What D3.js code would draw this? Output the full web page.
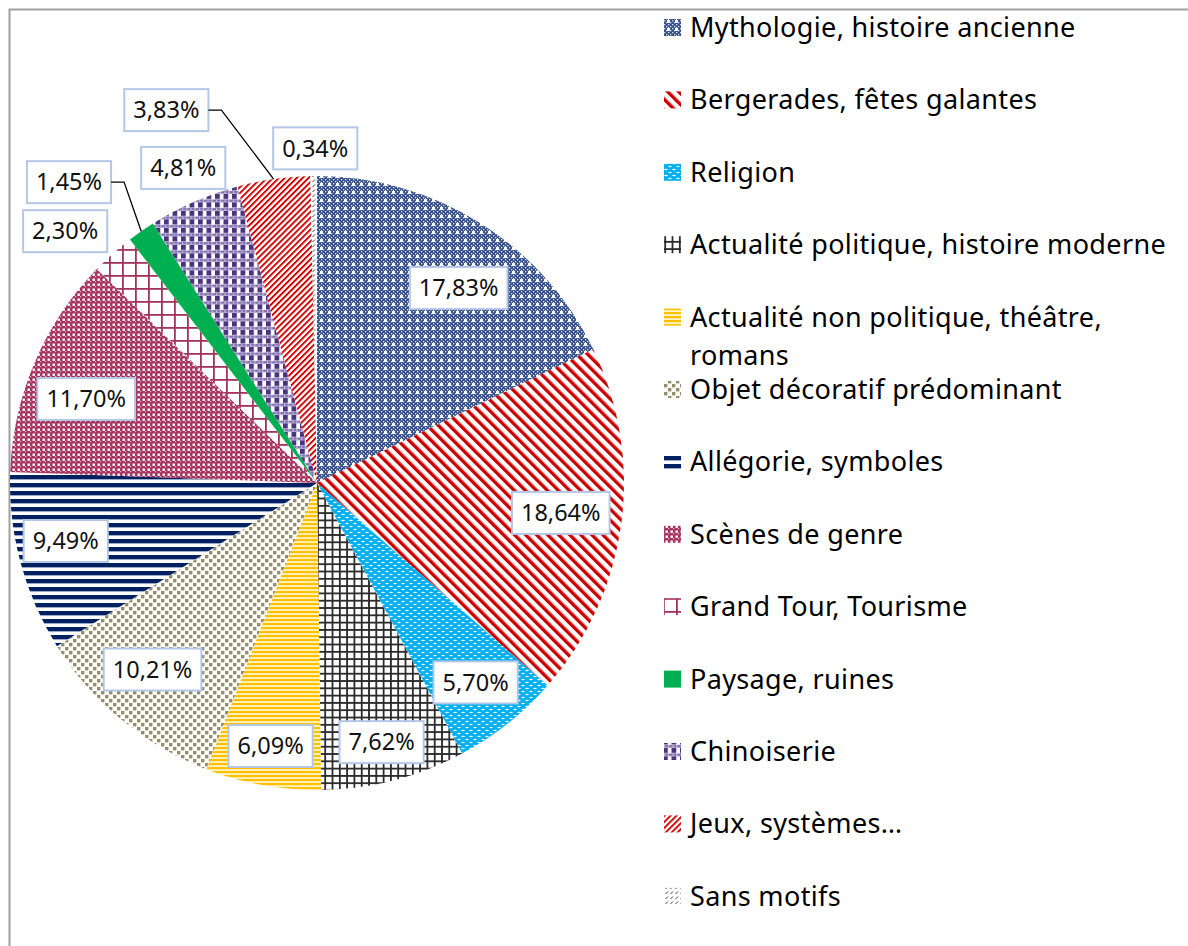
<!DOCTYPE html>
<html><head><meta charset="utf-8">
<script src="https://cdn.jsdelivr.net/npm/d3@7"></script>
<style>body{margin:0;background:#fff}svg{display:block}</style>
</head><body>
<svg id="c" width="1188" height="946"></svg>
<script>
// ---- data ----
const categories = ["Mythologie, histoire ancienne","Bergerades, fêtes galantes","Religion","Actualité politique, histoire moderne","Actualité non politique, théâtre, romans","Objet décoratif prédominant","Allégorie, symboles","Scènes de genre","Grand Tour, Tourisme","Paysage, ruines","Chinoiserie","Jeux, systèmes…","Sans motifs"];
const values = [17.83,18.64,5.70,7.62,6.09,10.21,9.49,11.70,2.30,1.45,4.81,3.83,0.34];
const valueLabels = ["17,83%","18,64%","5,70%","7,62%","6,09%","10,21%","9,49%","11,70%","2,30%","1,45%","4,81%","3,83%","0,34%"];
const legendLines = [["Mythologie, histoire ancienne"],["Bergerades, fêtes galantes"],["Religion"],["Actualité politique, histoire moderne"],["Actualité non politique, théâtre,","romans"],["Objet décoratif prédominant"],["Allégorie, symboles"],["Scènes de genre"],["Grand Tour, Tourisme"],["Paysage, ruines"],["Chinoiserie"],["Jeux, systèmes…"],["Sans motifs"]];
// label placement (layout): polar [angle in degrees, radius factor]; leader flags
const labelPolar = [[36,0.785],[97,0.80],[141.5,0.83],[166,0.87],[190,0.87],[221.4,0.81],[257,0.84],[290,0.80],[315,1.16],[320.5,1.27],[337,1.115],[338,1.31],[359.7,1.09]];
const hasLeader = [false,false,false,false,false,false,false,false,false,true,false,true,false];

const svg = d3.select("#c");
const defs = svg.append("defs");
function pat(id,w,h,draw,transform){
  const p = defs.append("pattern").attr("id",id).attr("patternUnits","userSpaceOnUse").attr("width",w).attr("height",h);
  if(transform) p.attr("patternTransform",transform);
  draw(p); return "url(#"+id+")";
}
function sq(p,x,y,s,c){p.append("rect").attr("x",x).attr("y",y).attr("width",s).attr("height",s).attr("fill",c);}
const fills = [
  pat("p0",8,8,p=>{p.append("rect").attr("width",8).attr("height",8).attr("fill","#36528f");
     [[0,0],[4,0],[2,2],[6,2],[0,4],[4,4],[2,6],[6,6]].forEach(([x,y])=>sq(p,x,y,1.3,"#d8e0f0"));
     sq(p,4,3,1,"#fff");sq(p,3,4,3,"#fff");}),
  pat("p1",7.8,7.8,p=>{p.append("rect").attr("width",7.8).attr("height",7.8).attr("fill","#fff");
     p.append("rect").attr("width",3.4).attr("height",7.8).attr("fill","#cc0000");},"rotate(-45)"),
  pat("p2",8,6,p=>{p.append("rect").attr("width",8).attr("height",6).attr("fill","#00b0f0");
     p.append("ellipse").attr("cx",2).attr("cy",1.5).attr("rx",1.8).attr("ry",0.8).attr("fill","#fff");
     p.append("ellipse").attr("cx",6).attr("cy",4.5).attr("rx",1.8).attr("ry",0.8).attr("fill","#fff");}),
  pat("p3",7.3,7.3,p=>{p.append("rect").attr("width",7.3).attr("height",7.3).attr("fill","#fff");
     p.append("rect").attr("width",7.3).attr("height",1.8).attr("fill","#2a2a2a");
     p.append("rect").attr("width",1.8).attr("height",7.3).attr("fill","#2a2a2a");}),
  pat("p4",4,4,p=>{p.append("rect").attr("width",4).attr("height",4).attr("fill","#fff3c8");
     p.append("rect").attr("width",4).attr("height",2.2).attr("fill","#ffc000");}),
  pat("p5",8,8,p=>{p.append("rect").attr("width",8).attr("height",8).attr("fill","#fff");
     sq(p,0,0,3.4,"#968d6a"); sq(p,4,4,3.4,"#968d6a");}),
  pat("p6",8,8,p=>{p.append("rect").attr("width",8).attr("height",8).attr("fill","#fff");
     p.append("rect").attr("width",8).attr("height",4.2).attr("fill","#002060");
     p.append("rect").attr("y",4.2).attr("width",8).attr("height",0.8).attr("fill","#8ea0c8");}),
  pat("p7",5,5,p=>{p.append("rect").attr("width",5).attr("height",5).attr("fill","#a6345f");
     p.append("rect").attr("x",0.5).attr("y",0.5).attr("width",2.4).attr("height",2.4).attr("fill","#fff");
     p.append("rect").attr("x",3).attr("y",3).attr("width",1.2).attr("height",1.2).attr("fill","#e6b8c8");}),
  pat("p8",13,13,p=>{p.append("rect").attr("width",13).attr("height",13).attr("fill","#fff");
     p.append("rect").attr("width",13).attr("height",1.8).attr("fill","#a2335e");
     p.append("rect").attr("width",1.8).attr("height",13).attr("fill","#a2335e");}),
  "#00b050",
  pat("p10",8.5,8.5,p=>{p.append("rect").attr("width",8.5).attr("height",8.5).attr("fill","#fff");
     p.append("rect").attr("x",0).attr("y",0).attr("width",4.8).attr("height",5).attr("fill","#4a347f");
     p.append("rect").attr("x",0).attr("y",5.5).attr("width",8.5).attr("height",2.6).attr("fill","#7e6cae");
     p.append("rect").attr("x",1).attr("y",6.2).attr("width",1.1).attr("height",1.1).attr("fill","#fff");
     p.append("rect").attr("x",5).attr("y",6.2).attr("width",1.1).attr("height",1.1).attr("fill","#fff");}),
  pat("p11",4.2,4.2,p=>{p.append("rect").attr("width",4.2).attr("height",4.2).attr("fill","#fff");
     p.append("rect").attr("width",1.9).attr("height",4.2).attr("fill","#d00000");},"rotate(45)"),
  pat("p12",5,5,p=>{p.append("rect").attr("width",5).attr("height",5).attr("fill","#fff");
     p.append("line").attr("x1",0.5).attr("y1",4).attr("x2",3).attr("y2",1.5).attr("stroke","#444").attr("stroke-width",1);})
];

// frame
svg.append("path").attr("d","M9.5,946 V9.5 H1188").attr("fill","none").attr("stroke","#a0a0a0").attr("stroke-width",2);

const cx = 317, cy = 483, R = 307;
const g = svg.append("g").attr("transform",`translate(${cx},${cy})`);
const pie = d3.pie().sort(null).value(d=>d).startAngle(0).endAngle(2*Math.PI);
const arcs = pie(values);
const arc = d3.arc().innerRadius(0).outerRadius(R);
g.selectAll("path.slice").data(arcs).enter().append("path").attr("class","slice")
  .attr("d",arc).attr("fill",(d,i)=>fills[i]);

const deg = d3.scaleLinear().domain([0,360]).range([0,2*Math.PI]);
const rad = d3.scaleLinear().domain([0,1]).range([0,R]);
function polar(aDeg,f){const a=deg(aDeg), r=rad(f);return [r*Math.sin(a), -r*Math.cos(a)];}

const FONT = "'Noto Sans', 'Open Sans', sans-serif";
const labels = g.selectAll("g.lab").data(arcs).enter().append("g").attr("class","lab");
labels.each(function(d,i){
  const [x,y] = polar(labelPolar[i][0],labelPolar[i][1]);
  const el = d3.select(this);
  const t = el.append("text").attr("x",x).attr("y",y).attr("dy","0.35em").attr("text-anchor","middle")
    .attr("font-family",FONT).attr("font-size",23.5).attr("fill","#111").text(valueLabels[i]);
  const w = t.node().getComputedTextLength()+18, h = 42;
  el.insert("rect","text").attr("x",x-w/2).attr("y",y-h/2).attr("width",w).attr("height",h)
    .attr("fill","#fff").attr("stroke","#b4c7e7").attr("stroke-width",2);
  if(hasLeader[i]){
    const mid=(d.startAngle+d.endAngle)/2;
    const ex=R*Math.sin(mid), ey=-R*Math.cos(mid);
    const sx=x+w/2, kx=sx+13;
    g.append("path").attr("d",`M${sx},${y} H${kx} L${ex},${ey}`).attr("fill","none").attr("stroke","#000").attr("stroke-width",1.3);
  }
});

// legend
const leg = svg.append("g");
const legY = d3.scaleLinear().domain([0,1]).range([37,109.4]);
legendLines.forEach((lines,i)=>{
  const by = legY(i);
  leg.append("rect").attr("x",664).attr("y",by-18).attr("width",17).attr("height",17).attr("fill",fills[i]);
  lines.forEach((ln,j)=>{
    leg.append("text").attr("x",690).attr("y",by+j*38).attr("font-family",FONT).attr("font-size",27)
      .attr("letter-spacing",0.35).attr("fill","#000").text(ln);
  });
});
</script>
</body></html>
